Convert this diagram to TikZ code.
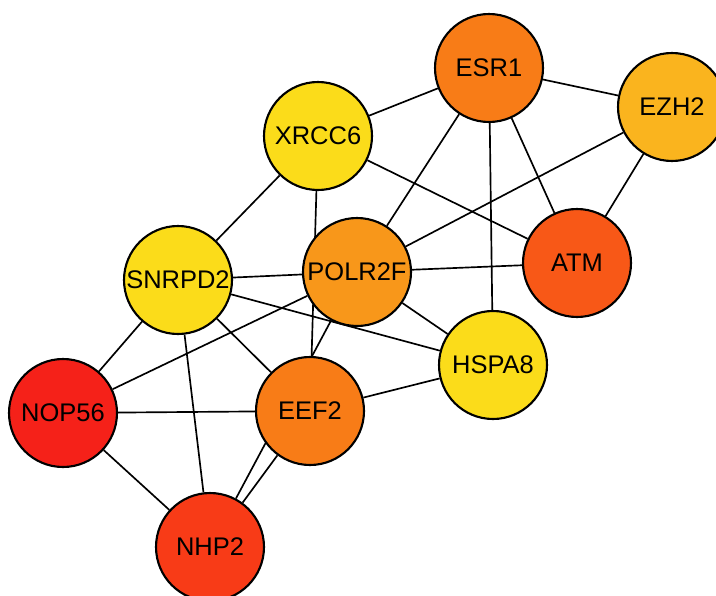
\documentclass[tikz,border=0pt]{standalone}
\usepackage{fontspec}
\setmainfont{Liberation Sans}
\usepackage{tikz}
\usetikzlibrary{backgrounds}
\definecolor{DegRed}{HTML}{F52119}
\definecolor{DegRedOrange}{HTML}{F83B17}
\definecolor{DegAtm}{HTML}{F85817}
\definecolor{DegOrange}{HTML}{F87C17}
\definecolor{DegLightOrange}{HTML}{F8971A}
\definecolor{DegAmber}{HTML}{FAB41E}
\definecolor{DegYellow}{HTML}{FBDC1A}

\begin{document}
\begin{tikzpicture}[x=0.02cm, y=-0.02cm,
  gene/.style={circle, draw=black, line width=1.2pt, minimum size=2.16cm, inner sep=0pt,
    font=\fontsize{14.5}{17}\selectfont, text centered},
  link/.style={line width=0.95pt, color=black}
]
\useasboundingbox (0,0) rectangle (716,595);

\node[gene, fill=DegOrange]      (esr1)   at (489,68)  {ESR1};
\node[gene, fill=DegAmber]       (ezh2)   at (672,107) {EZH2};
\node[gene, fill=DegYellow]      (xrcc6)  at (318,136) {XRCC6};
\node[gene, fill=DegAtm]         (atm)    at (577,263) {ATM};
\node[gene, fill=DegLightOrange] (polr2f) at (357,272) {POLR2F};
\node[gene, fill=DegYellow]      (snrpd2) at (178,280) {SNRPD2};
\node[gene, fill=DegYellow]      (hspa8)  at (493,365) {HSPA8};
\node[gene, fill=DegRed]         (nop56)  at (63,413)  {NOP56};
\node[gene, fill=DegOrange]      (eef2)   at (310,411) {EEF2};
\node[gene, fill=DegRedOrange]   (nhp2)   at (210,547) {NHP2};

\begin{scope}[on background layer]
\draw[link] (esr1)   -- (ezh2);
\draw[link] (esr1)   -- (xrcc6);
\draw[link] (esr1)   -- (polr2f);
\draw[link] (esr1)   -- (hspa8);
\draw[link] (esr1)   -- (atm);
\draw[link] (ezh2)   -- (atm);
\draw[link] (ezh2)   -- (polr2f);
\draw[link] (xrcc6)  -- (snrpd2);
\draw[link] (xrcc6)  -- (atm);
\draw[link] (xrcc6)  -- (eef2);
\draw[link] (snrpd2) -- (polr2f);
\draw[link] (polr2f) -- (atm);
\draw[link] (polr2f) -- (hspa8);
\draw[link] (polr2f) -- (nop56);
\draw[link] (polr2f) -- (nhp2);
\draw[link] (snrpd2) -- (hspa8);
\draw[link] (snrpd2) -- (nop56);
\draw[link] (snrpd2) -- (eef2);
\draw[link] (snrpd2) -- (nhp2);
\draw[link] (nop56)  -- (eef2);
\draw[link] (nop56)  -- (nhp2);
\draw[link] (eef2)   -- (hspa8);
\draw[link] (eef2)   -- (nhp2);
\end{scope}
\end{tikzpicture}
\end{document}
